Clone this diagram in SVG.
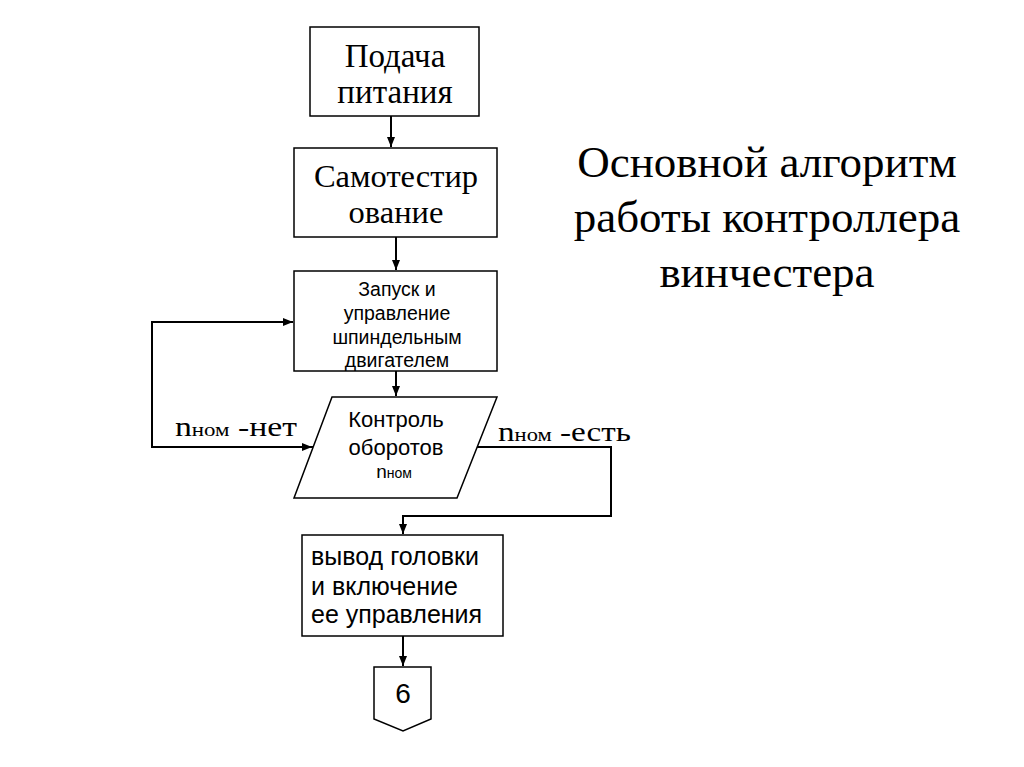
<svg xmlns="http://www.w3.org/2000/svg" width="1024" height="767" viewBox="0 0 1024 767">
<defs>
<marker id="ah" markerWidth="11" markerHeight="11" refX="10" refY="5" orient="auto" markerUnits="userSpaceOnUse">
<path d="M0,1 L10,5 L0,9 Z" fill="#000"/>
</marker>
<style>
.box{fill:#fff;stroke:#000;stroke-width:1.5}
.ln{fill:none;stroke:#000;stroke-width:2}
.serif{font-family:"Liberation Serif","Times New Roman",serif;fill:#000}
.sans{font-family:"Liberation Sans",Arial,sans-serif;fill:#000}
</style>
</defs>
<rect width="1024" height="767" fill="#fff"/>
<g id="connectors">
<line class="ln" x1="391" y1="116" x2="391" y2="147" marker-end="url(#ah)"/>
<line class="ln" x1="396" y1="237" x2="396" y2="270" marker-end="url(#ah)"/>
<line class="ln" x1="396" y1="371" x2="396" y2="396" marker-end="url(#ah)"/>
<polyline class="ln" points="313,447 152,447 152,322 293,322" marker-end="url(#ah)"/>
<polyline class="ln" points="477,447 611,447 611,516 403,516 403,534" marker-end="url(#ah)"/>
<line class="ln" x1="403" y1="636" x2="403" y2="666" marker-end="url(#ah)"/>
<line class="ln" x1="152" y1="447" x2="312" y2="447" marker-end="url(#ah)"/>
</g>
<g id="n1">
<rect class="box" x="310" y="27" width="169" height="89"/>
<text class="serif" font-size="33" text-anchor="middle" x="395" y="67">Подача</text>
<text class="serif" font-size="33" text-anchor="middle" x="395" y="103">питания</text>
</g>
<g id="n2">
<rect class="box" x="294" y="148" width="203" height="89"/>
<text class="serif" font-size="32.5" text-anchor="middle" x="396" y="187">Самотестир</text>
<text class="serif" font-size="32.5" text-anchor="middle" x="396" y="223">ование</text>
</g>
<g id="n3">
<rect class="box" x="294" y="271" width="203" height="100"/>
<text class="sans" font-size="19.5" text-anchor="middle" x="397" y="296">Запуск и</text>
<text class="sans" font-size="19.5" text-anchor="middle" x="397" y="320">управление</text>
<text class="sans" font-size="19.5" text-anchor="middle" x="397" y="344">шпиндельным</text>
<text class="sans" font-size="19.5" text-anchor="middle" x="397" y="367">двигателем</text>
</g>
<g id="n4">
<polygon class="box" points="332,397 497,397 457,498 294,498"/>
<text class="sans" font-size="22" text-anchor="middle" x="396" y="427">Контроль</text>
<text class="sans" font-size="22" text-anchor="middle" x="396" y="455">оборотов</text>
<text class="sans" text-anchor="middle" x="394" y="478"><tspan font-size="19">n</tspan><tspan font-size="14">ном</tspan></text>
</g>
<g id="n5">
<rect class="box" x="302" y="535" width="201" height="101"/>
<text class="sans" font-size="25" x="311" y="565">вывод головки</text>
<text class="sans" font-size="25" x="311" y="595">и включение</text>
<text class="sans" font-size="25" x="311" y="623">ее управления</text>
</g>
<g id="n6">
<polygon class="box" points="374,667 431,667 431,719 403,731 374,719"/>
<text class="sans" font-size="28" text-anchor="middle" x="403" y="703">6</text>
</g>
<g id="labels">
<text class="serif" x="175" y="436" textLength="122" lengthAdjust="spacingAndGlyphs"><tspan font-size="28">n</tspan><tspan font-size="19">ном</tspan><tspan font-size="28">  -нет</tspan></text>
<text class="serif" x="498" y="441" textLength="133" lengthAdjust="spacingAndGlyphs"><tspan font-size="28">n</tspan><tspan font-size="19">ном</tspan><tspan font-size="28">  -есть</tspan></text>
</g>
<g id="title">
<text class="serif" font-size="45" text-anchor="middle" x="767" y="177">Основной алгоритм</text>
<text class="serif" font-size="45" text-anchor="middle" x="767" y="232">работы контроллера</text>
<text class="serif" font-size="45" text-anchor="middle" x="767" y="287">винчестера</text>
</g>
</svg>
